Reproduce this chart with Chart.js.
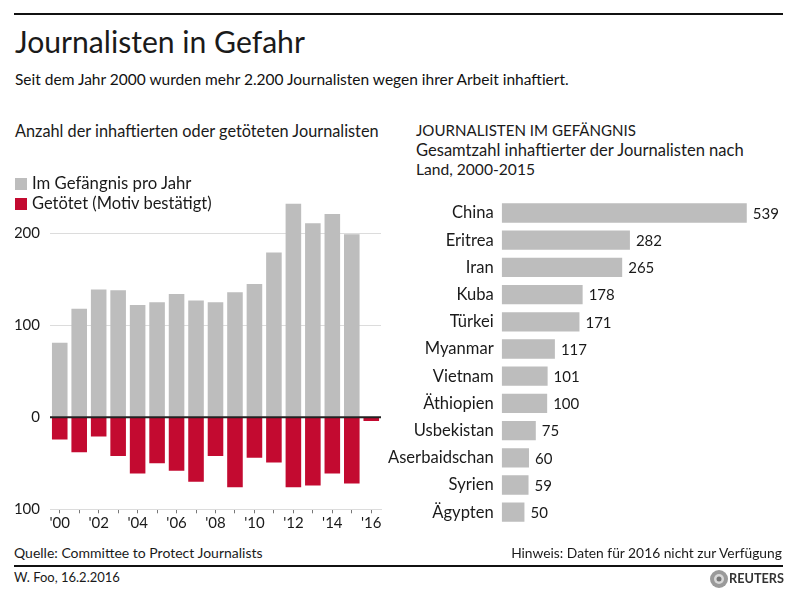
<!DOCTYPE html>
<html><head><meta charset="utf-8">
<script src="https://cdn.jsdelivr.net/npm/chart.js@4.4.1/dist/chart.umd.min.js"></script>
<style>
html,body{margin:0;padding:0;background:#fff;}
#page{position:relative;width:798px;height:600px;overflow:hidden;font-family:Lato,sans-serif;color:#1a1a1a;background:#fff;}
.t{position:absolute;white-space:nowrap;}
.rule{position:absolute;left:14px;width:769px;height:2px;background:#111;}
.sw{position:absolute;width:12px;height:12px;}
canvas{position:absolute;}
</style></head><body>
<div id="page">
  <div class="rule" style="top:13px"></div>
  <div class="rule" style="top:565px"></div>
  <canvas id="left" width="400" height="370" style="left:0;top:170px;width:400px;height:370px"></canvas>
  <canvas id="right" width="428" height="345" style="left:370px;top:190px;width:428px;height:345px"></canvas>
  <div class="sw" style="left:15px;top:178px;background:#bdbdbd"></div>
  <div class="sw" style="left:15px;top:198px;background:#c30a30"></div>
  <svg style="position:absolute;left:709px;top:569px" width="20" height="20" viewBox="0 0 20 20">
    <circle cx="10" cy="10" r="9" fill="#9a9a9a"/>
    <circle cx="10" cy="10" r="5" fill="#d8d8d8"/>
    <circle cx="10" cy="10" r="2.5" fill="#777"/>
  </svg>
</div>
<script>
// ---- data ----
const years = ["'00","'01","'02","'03","'04","'05","'06","'07","'08","'09","'10","'11","'12","'13","'14","'15","'16"];
const imprisoned = [81,118,139,138,122,125,134,127,125,136,145,179,232,211,221,199,null];
const killed = [24,38,21,42,61,50,58,70,42,76,44,49,76,74,61,72,4];
const leftTicks = [-100,0,100,200];
const countries = ["China","Eritrea","Iran","Kuba","Türkei","Myanmar","Vietnam","Äthiopien","Usbekistan","Aserbaidschan","Syrien","Ägypten"];
const totals = [539,282,265,178,171,117,101,100,75,60,59,50];

const GRAY = '#bdbdbd', RED = '#c30a30', INK = '#1a1a1a';
const page = document.getElementById('page');
const mctx = document.createElement('canvas').getContext('2d');

function fitSize(txt, targetW, wt, fam){
  mctx.font = `${wt||400} 100px ${fam||'Lato'}`;
  return 100*targetW/mctx.measureText(txt).width;
}
function addText(txt, x, baseline, targetW, o){
  o = o||{};
  const fam = o.family||'Lato', wt = o.weight||400;
  const size = o.size || fitSize(txt, targetW, wt, fam);
  mctx.font = `${wt} ${size}px ${fam}`;
  const mm = mctx.measureText(txt);
  const fa = mm.fontBoundingBoxAscent, fd = mm.fontBoundingBoxDescent;
  const lh = Math.ceil(fa+fd)+2;
  const off = (lh-(fa+fd))/2 + fa;
  const d = document.createElement('div');
  d.className = 't'; d.textContent = txt;
  d.style.font = `${wt} ${size}px ${fam}`;
  d.style.lineHeight = lh+'px';
  d.style.top = (baseline-off)+'px';
  d.style.left = (o.align==='right' ? x-mm.width : x)+'px';
  d.style.color = o.color||INK;
  page.appendChild(d);
}

addText('Journalisten in Gefahr', 15, 53.3, 290);
addText('Seit dem Jahr 2000 wurden mehr 2.200 Journalisten wegen ihrer Arbeit inhaftiert.', 15, 85, 557, {color:'#111'});
addText('Anzahl der inhaftierten oder getöteten Journalisten', 15, 136.7, 365);
addText('JOURNALISTEN IM GEFÄNGNIS', 416, 136, 220);
addText('Gesamtzahl inhaftierter der Journalisten nach', 416, 155.5, 329);
addText('Land, 2000-2015', 416, 175, 119);
addText('Im Gefängnis pro Jahr', 32, 189.3, 160);
addText('Getötet (Motiv bestätigt)', 32, 209.3, 180);
addText('Quelle: Committee to Protect Journalists', 14, 558.3, 249);
addText('Hinweis: Daten für 2016 nicht zur Verfügung', 783, 558.3, 272, {align:'right'});
addText('W. Foo, 16.2.2016', 14, 582.3, 106);
addText('REUTERS', 784, 582.5, 55, {align:'right', weight:700, color:'#333'});

function noPad(s){ s.paddingTop = 0; s.paddingBottom = 0; s.paddingLeft = 0; s.paddingRight = 0; }

// ---- left chart ----
const zeroLine = {
  id:'zeroLine',
  afterDatasetsDraw(chart){
    const {ctx, chartArea} = chart;
    const y = chart.scales.y.getPixelForValue(0);
    ctx.save();
    ctx.strokeStyle = '#222'; ctx.lineWidth = 2;
    ctx.beginPath(); ctx.moveTo(chartArea.left, y); ctx.lineTo(chartArea.right, y); ctx.stroke();
    ctx.restore();
  }
};
const tickFont = {family:'Lato', size:15};
new Chart(document.getElementById('left'), {
  type:'bar',
  data:{labels:years, datasets:[
    {label:'Im Gefängnis pro Jahr', data:imprisoned, backgroundColor:GRAY, categoryPercentage:1, barPercentage:0.8},
    {label:'Getötet (Motiv bestätigt)', data:killed.map(v=>-v), backgroundColor:RED, categoryPercentage:1, barPercentage:0.8}
  ]},
  options:{
    responsive:false, animation:false,
    layout:{padding:{left:15,right:19,top:17.3,bottom:6.7}},
    plugins:{legend:{display:false}, tooltip:{enabled:false}},
    scales:{
      x:{stacked:true,
         grid:{display:true, drawOnChartArea:false, drawTicks:true, tickLength:4, color:'#777', offset:false},
         border:{display:true, color:'#dcdcdc'},
         ticks:{autoSkip:false, maxRotation:0, minRotation:0, padding:1, color:INK, font:tickFont,
                callback:(v,i)=> i%2===0 ? years[i] : ''},
         afterFit:s=>{s.height=24; noPad(s);}},
      y:{stacked:true, min:-100, max:250,
         afterBuildTicks:s=>{s.ticks = leftTicks.map(v=>({value:v}));},
         grid:{drawTicks:false, color:c=>c.tick && c.tick.value===0 ? '#222' : '#dcdcdc', lineWidth:1},
         border:{display:false},
         ticks:{padding:10, color:INK, font:tickFont, callback:v=>String(Math.abs(v))},
         afterFit:s=>{s.width=35; noPad(s);}}
    }
  },
  plugins:[zeroLine]
});

// ---- right chart ----
const labelSize = fitSize('Usbekistan', 80, 400, 'Lato');
const valueLabels = {
  id:'valueLabels',
  afterDatasetsDraw(chart){
    const ctx = chart.ctx, meta = chart.getDatasetMeta(0);
    ctx.save();
    ctx.font = '400 15px Lato'; ctx.fillStyle = INK; ctx.textBaseline = 'middle'; ctx.textAlign = 'left';
    meta.data.forEach((el,i)=>{ ctx.fillText(String(totals[i]), el.x+6, el.y+1); });
    ctx.restore();
  }
};
new Chart(document.getElementById('right'), {
  type:'bar',
  data:{labels:countries, datasets:[{data:totals, backgroundColor:GRAY, categoryPercentage:1, barPercentage:0.71}]},
  options:{
    indexAxis:'y', responsive:false, animation:false,
    layout:{padding:{left:0,right:23.5,top:9.4,bottom:9.2}},
    plugins:{legend:{display:false}, tooltip:{enabled:false}},
    scales:{
      x:{display:false, min:0, max:600, afterFit:noPad},
      y:{grid:{display:false, drawTicks:false}, border:{display:false},
         ticks:{padding:8, color:INK, font:{family:'Lato', size:labelSize}, autoSkip:false},
         afterFit:s=>{s.width=131.7; noPad(s);}}
    }
  },
  plugins:[valueLabels]
});
</script>
</body></html>
